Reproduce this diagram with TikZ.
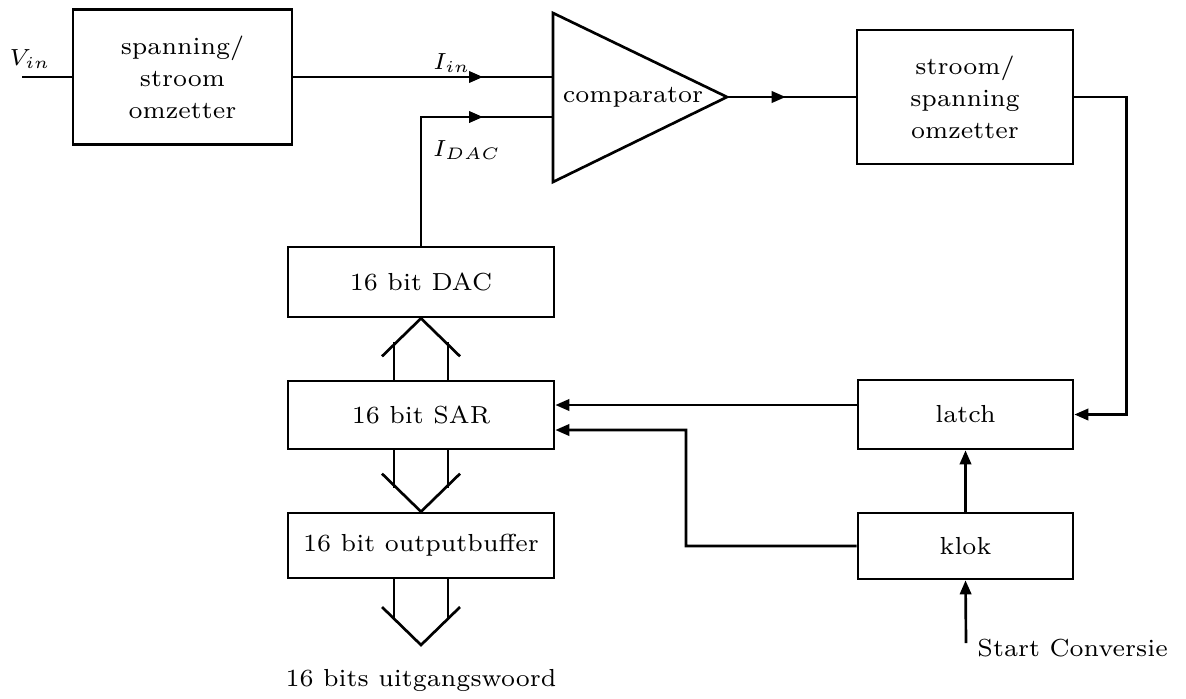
\documentclass[tikz,border=0pt]{standalone}
\usepackage{amsmath}
\usetikzlibrary{arrows.meta,decorations.markings}

\begin{document}
\begin{tikzpicture}[x=0.3pt,y=-0.3pt,line width=0.8pt,
  every node/.style={font=\fontsize{7.4}{9.6}\selectfont},
  blok/.style={draw,inner sep=0pt,align=center},
  pijl/.style={-{Triangle[length=4.2pt,width=3.4pt]}},
  halfpijl/.style={postaction={decorate},decoration={markings,
    mark=at position -21pt with {\arrow{Triangle[length=4.2pt,width=3.4pt]}}}}]
\useasboundingbox (0,0) rectangle (1186,698);

% blokken
\node[blok,minimum width=65.7pt,minimum height=40.5pt] (conv1) at (182.5,77) {spanning/\\stroom\\omzetter};
\node[blok,minimum width=64.8pt,minimum height=40.2pt] (conv2) at (965,97) {stroom/\\spanning\\omzetter};
\node[blok,minimum width=79.8pt,minimum height=21pt] (dac) at (421,282) {16 bit DAC};
\node[blok,minimum width=79.8pt,minimum height=20.4pt] (sar) at (421,415) {16 bit SAR};
\node[blok,minimum width=79.8pt,minimum height=19.5pt] (buf) at (421,545.5) {16 bit outputbuffer};
\node[blok,minimum width=64.5pt,minimum height=20.7pt] (latch) at (965.5,414.5) {latch};
\node[blok,minimum width=64.5pt,minimum height=19.8pt] (klok) at (965.5,546) {klok};

% comparator
\coordinate (cmpboven) at (553,13);
\coordinate (cmpuit) at (727,97);
\coordinate (cmponder) at (553,182);
\draw (cmpboven) -- (cmpuit) -- (cmponder) -- cycle;
\node (cmptxt) at (633,97) {comparator};
\coordinate (inplus) at (553,77);
\coordinate (inmin) at (553,117);

% signalen
\coordinate (vin) at (22,77);
\node (vintxt) at (30,59) {$V_{in}$};
\draw (vin) -- (conv1.west);
\draw[halfpijl] (conv1.east) -- (inplus);
\node (iin) at (452,63) {$I_{in}$};
\draw[halfpijl] (dac.north) |- (inmin);
\node (idac) at (467,150) {$I_{DAC}$};
\draw[halfpijl] (cmpuit) -- (conv2.west);
\draw[pijl] (conv2.east) -- ++(52,0) |- (latch.east);

% terugkoppeling naar SAR
\coordinate (sarin1) at ([yshift=3pt]sar.east);
\coordinate (sarin2) at ([yshift=-4.5pt]sar.east);
\coordinate (knik) at (686,430);
\draw[pijl] (latch.west |- sarin1) -- (sarin1);
\draw[pijl] (klok.west) -| (knik) -- (sarin2);
\draw[pijl] (klok) -- (latch);
\coordinate (start) at (966,643);
\draw[pijl] (start) -- (klok.south);
\node[anchor=west] (starttxt) at (965,648) {Start Conversie};

% bussen
\draw (dac.south) ++(-39,38) -- (dac.south) -- ++(39,38);
\draw (sar.north) ++(-27,0) -- ++(0,-38) (sar.north) ++(27,0) -- ++(0,-38);
\draw (buf.north) ++(-39,-38) -- (buf.north) -- ++(39,-38);
\draw (sar.south) ++(-27,0) -- ++(0,38) (sar.south) ++(27,0) -- ++(0,38);
\coordinate (uit) at (421,645);
\draw (uit) ++(-39,-38) -- (uit) -- ++(39,-38);
\draw (buf.south) ++(-27,0) -- ++(0,41) (buf.south) ++(27,0) -- ++(0,41);
\node (woord) at (421,680) {16 bits uitgangswoord};
\end{tikzpicture}
\end{document}
